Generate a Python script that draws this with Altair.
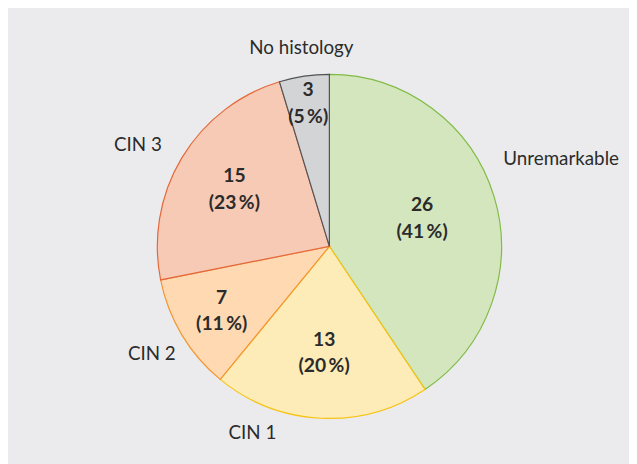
import altair as alt
import pandas as pd

categories = ["Unremarkable", "CIN 1", "CIN 2", "CIN 3", "No histology"]
counts = [26, 13, 7, 15, 3]
percents = [41, 20, 11, 23, 5]

fills = ["#d3e6bd", "#feecb8", "#fed9b2", "#f6cab4", "#d3d4d6"]
strokes = ["#80bb45", "#f7c416", "#f39530", "#e5683a", "#505358"]

df = pd.DataFrame({
    "category": categories,
    "count": counts,
    "pct": percents,
    "order": list(range(len(categories))),
})
df["inner"] = [f"{c}\n({p}\u2009%)" for c, p in zip(counts, percents)]

FONT = "Lato"
TXT = "#2b2b2b"

base = alt.Chart(df).encode(
    theta=alt.Theta("count:Q", stack=True),
    order=alt.Order("order:Q"),
)

arcs = base.mark_arc(outerRadius=174, strokeWidth=1.2).encode(
    fill=alt.Fill("category:N", scale=alt.Scale(domain=categories, range=fills), legend=None),
    stroke=alt.Stroke("category:N", scale=alt.Scale(domain=categories, range=strokes), legend=None),
)

# label placement styles
inner_radius = {"Unremarkable": 98, "CIN 1": 108, "CIN 2": 127, "CIN 3": 112, "No histology": 146}
outer_offset = {
    "Unremarkable": (43, -30),
    "CIN 1": (-68, -11),
    "CIN 2": (-8, 6),
    "CIN 3": (-22, 0),
    "No histology": (1, -3),
}

layers = [arcs]
for cat in categories:
    layers.append(
        base.mark_text(
            radius=inner_radius[cat], dy=-13.5, font=FONT, fontSize=19.5, fontWeight="bold",
            lineBreak="\n", lineHeight=27, color=TXT, baseline="middle", align="center",
        ).encode(text=alt.condition(alt.datum.category == cat, alt.Text("inner:N"), alt.value("")))
    )
    dx, dy = outer_offset[cat]
    layers.append(
        base.mark_text(
            radius=200, dx=dx, dy=dy, font=FONT, fontSize=19, color=TXT,
            baseline="middle", align="center",
        ).encode(text=alt.condition(alt.datum.category == cat, alt.Text("category:N"), alt.value("")))
    )

chart = alt.layer(*layers).properties(
    width=628,
    height=456,
    padding={"left": 22, "top": 12, "right": 0, "bottom": 0},
    autosize=alt.AutoSizeParams(type="fit", contains="padding"),
    background="#ebebed",
).configure_view(strokeWidth=0)

chart.save("out.html", embed_options={"renderer": "svg", "actions": False})
